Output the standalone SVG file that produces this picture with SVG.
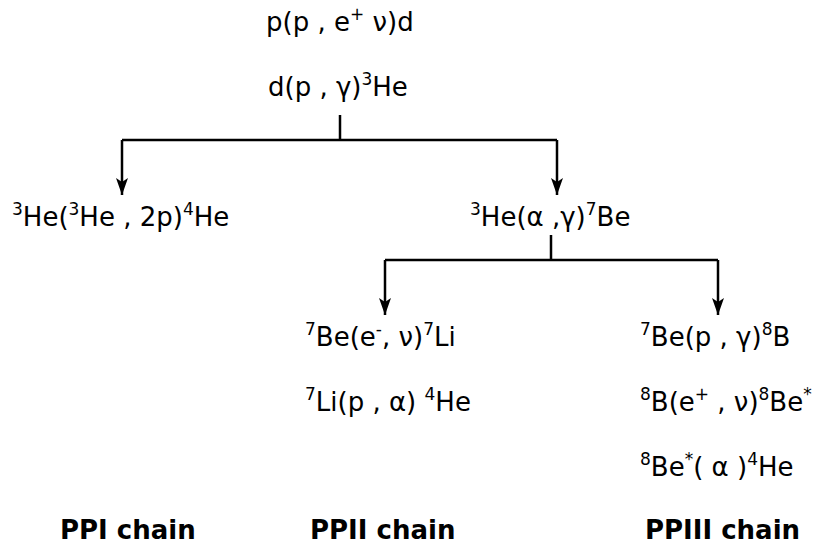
<svg xmlns="http://www.w3.org/2000/svg" width="816" height="544" viewBox="0 0 816 544">
<style>
.t{font-family:"DejaVu Sans",sans-serif;font-size:26px;fill:#000}
.b{font-family:"DejaVu Sans",sans-serif;font-size:26px;font-weight:bold;fill:#000}
.s{font-size:17px}
.c{fill:none;stroke:#000;stroke-width:2.5}
</style>
<defs>
<marker id="ah" markerWidth="12" markerHeight="17" refX="6" refY="17" orient="0" markerUnits="userSpaceOnUse">
<path d="M0,0 L6,4 L12,0 L6,17 Z" fill="#000"/>
</marker>
</defs>
<g id="connectors">
<path class="c" d="M340,115 V140"/>
<path class="c" d="M122,140 H557"/>
<path class="c" d="M122,140 V195" marker-end="url(#ah)"/>
<path class="c" d="M557,140 V195" marker-end="url(#ah)"/>
<path class="c" d="M551,235 V260"/>
<path class="c" d="M385,260 H718"/>
<path class="c" d="M385,260 V315" marker-end="url(#ah)"/>
<path class="c" d="M718,260 V315" marker-end="url(#ah)"/>
</g>
<g id="n1"><text class="t" x="266" y="31">p(p , e<tspan class="s" dy="-11">+</tspan><tspan dy="11"> ν)d</tspan></text></g>
<g id="n2"><text class="t" x="268" y="96">d(p , γ)<tspan class="s" dy="-11">3</tspan><tspan dy="11">He</tspan></text></g>
<g id="n3"><text class="t" x="12" y="226"><tspan class="s" dy="-11">3</tspan><tspan dy="11">He(</tspan><tspan class="s" dy="-11">3</tspan><tspan dy="11">He , 2p)</tspan><tspan class="s" dy="-11">4</tspan><tspan dy="11">He</tspan></text></g>
<g id="n4"><text class="t" x="470" y="226"><tspan class="s" dy="-11">3</tspan><tspan dy="11">He(α ,γ)</tspan><tspan class="s" dy="-11">7</tspan><tspan dy="11">Be</tspan></text></g>
<g id="n5"><text class="t" x="305" y="346"><tspan class="s" dy="-11">7</tspan><tspan dy="11">Be(e</tspan><tspan class="s" dy="-11">-</tspan><tspan dy="11">, ν)</tspan><tspan class="s" dy="-11">7</tspan><tspan dy="11">Li</tspan></text></g>
<g id="n6"><text class="t" x="305" y="411"><tspan class="s" dy="-11">7</tspan><tspan dy="11">Li(p , α) </tspan><tspan class="s" dy="-11">4</tspan><tspan dy="11">He</tspan></text></g>
<g id="n7"><text class="t" x="640" y="346"><tspan class="s" dy="-11">7</tspan><tspan dy="11">Be(p , γ)</tspan><tspan class="s" dy="-11">8</tspan><tspan dy="11">B</tspan></text></g>
<g id="n8"><text class="t" x="640" y="411"><tspan class="s" dy="-11">8</tspan><tspan dy="11">B(e</tspan><tspan class="s" dy="-11">+</tspan><tspan dy="11"> , ν)</tspan><tspan class="s" dy="-11">8</tspan><tspan dy="11">Be</tspan><tspan class="s" dy="-11">*</tspan></text></g>
<g id="n9"><text class="t" x="640" y="476"><tspan class="s" dy="-11">8</tspan><tspan dy="11">Be</tspan><tspan class="s" dy="-11">*</tspan><tspan dy="11">( α )</tspan><tspan class="s" dy="-11">4</tspan><tspan dy="11">He</tspan></text></g>
<g id="l1"><text class="b" x="60" y="539">PPI chain</text></g>
<g id="l2"><text class="b" x="310" y="539">PPII chain</text></g>
<g id="l3"><text class="b" x="645" y="539">PPIII chain</text></g>
</svg>
